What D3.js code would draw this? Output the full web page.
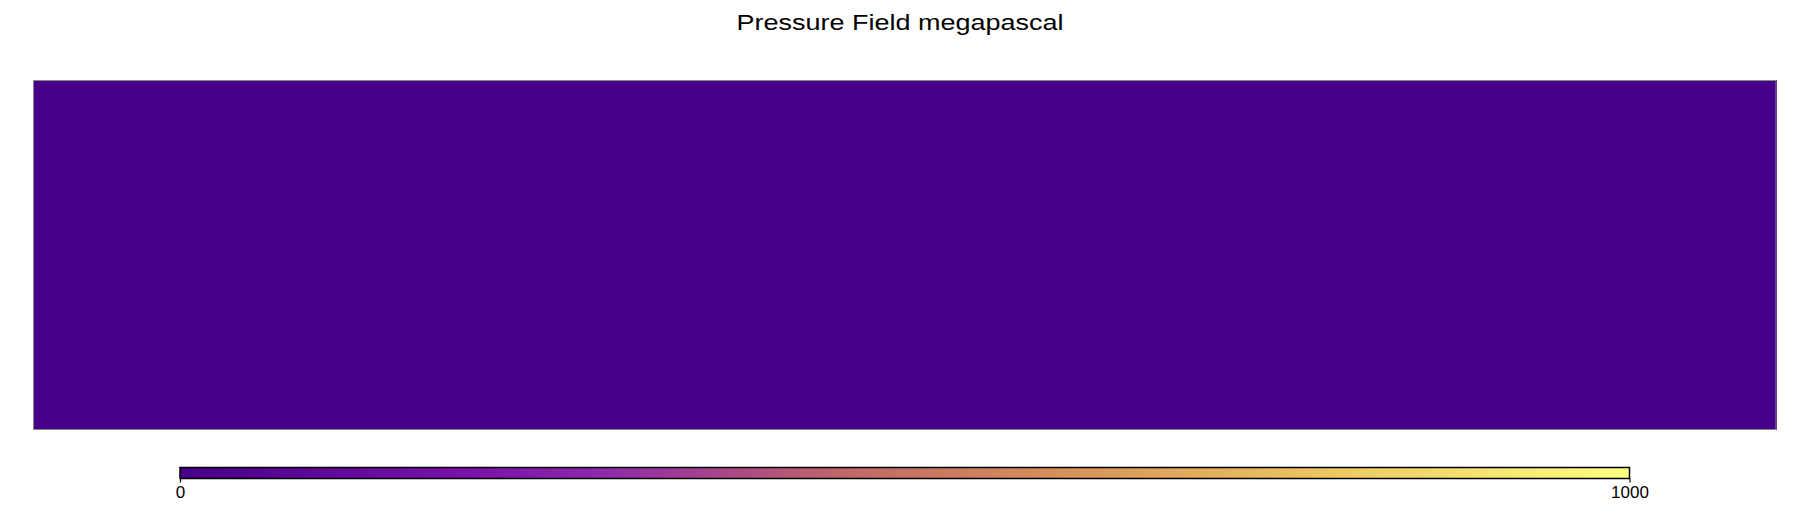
<!DOCTYPE html>
<html><head><meta charset="utf-8">
<script src="https://cdn.jsdelivr.net/npm/d3@7"></script>
<style>body{margin:0;background:#fff}svg{display:block}</style>
</head><body>
<svg id="chart" width="1810" height="510"></svg>
<script>
const title = "Pressure Field megapascal";
const xCells = [0,1,2,3,4,5,6,7,8,9];
const yCells = [0,1,2,3];
const pressure = [
  [0,0,0,0,0,0,0,0,0,0],
  [0,0,0,0,0,0,0,0,0,0],
  [0,0,0,0,0,0,0,0,0,0],
  [0,0,0,0,0,0,0,0,0,0]
];
const colorDomain = [0, 1000];
const tickValues = [0, 1000];
const colorStops = ["#46008a","#7a12aa","#8e28ac","#b0507f","#c06868","#d68e5a","#edca60","#ffff80"];
const stopPos = [0,0.2,0.29,0.4,0.46,0.6,0.8,1];

const svg = d3.select("#chart");
const x = d3.scaleBand().domain(xCells).range([33.5, 1776]);
const y = d3.scaleBand().domain(yCells).range([80, 429.5]);
const color = d3.scaleLinear()
  .domain(stopPos.map(p => colorDomain[0] + p*(colorDomain[1]-colorDomain[0])))
  .range(colorStops).interpolate(d3.interpolateRgb).clamp(true);

svg.append("text").attr("x", 900).attr("y", 29.5).attr("text-anchor","middle")
  .attr("font-family","Liberation Sans, Arial, sans-serif").attr("font-size",22)
  .attr("textLength",327).attr("lengthAdjust","spacingAndGlyphs")
  .attr("fill","#000").text(title);

const cells = [];
pressure.forEach((row,i)=>row.forEach((v,j)=>cells.push({i,j,v})));
svg.append("g").selectAll("rect").data(cells).join("rect")
  .attr("x", d=>x(d.j)).attr("y", d=>y(d.i))
  .attr("width", x.bandwidth()+0.5).attr("height", y.bandwidth()+0.5)
  .attr("fill", d=>color(d.v)).attr("shape-rendering","crispEdges");
svg.append("rect").attr("x",33.5).attr("y",80.5).attr("width",1776-33.5).attr("height",349)
  .attr("fill","none").attr("stroke","#888").attr("stroke-width",1);

// colorbar
const cb = d3.scaleLinear().domain(colorDomain).range([180, 1629.5]);
const defs = svg.append("defs");
const grad = defs.append("linearGradient").attr("id","cbg").attr("x1","0%").attr("x2","100%");
grad.selectAll("stop").data(stopPos).join("stop")
  .attr("offset", d=>(d*100)+"%").attr("stop-color",(d,i)=>colorStops[i]);
svg.append("rect").attr("x",180).attr("y",467.5).attr("width",1449.5).attr("height",11)
  .attr("fill","url(#cbg)").attr("stroke","#000").attr("stroke-width",1.5);
const axis = d3.axisBottom(cb).tickValues(tickValues).tickSize(4).tickPadding(3).tickFormat(d3.format("d"));
const ag = svg.append("g").attr("transform","translate(0,478.5)").call(axis);
ag.select(".domain").remove();
ag.selectAll("line").attr("stroke","#000").attr("stroke-width",1.2);
ag.selectAll("text").attr("font-family","Liberation Sans, Arial, sans-serif").attr("font-size",17).attr("fill","#000");
</script>
</body></html>
